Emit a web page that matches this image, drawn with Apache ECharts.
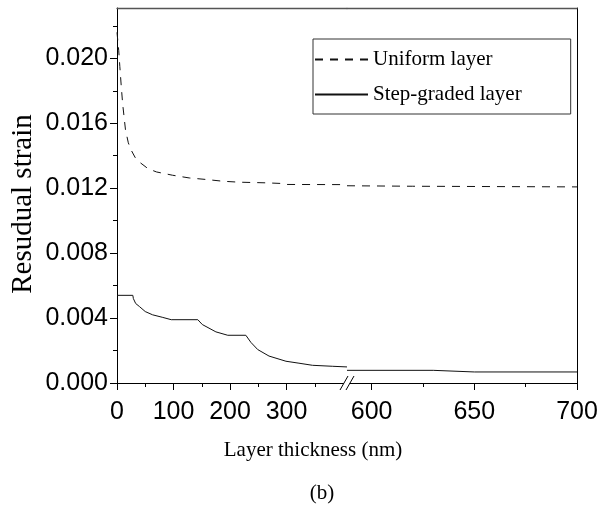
<!DOCTYPE html>
<html>
<head>
<meta charset="utf-8">
<script src="https://cdn.jsdelivr.net/npm/echarts@6/dist/echarts.min.js"></script>
<style>
  html, body { margin: 0; padding: 0; background: #fff; }
  #chart { width: 611px; height: 508px; }
</style>
</head>
<body>
<div id="chart"></div>
<script>
// broken x axis: left part 0..407 nm, right part 588..700 nm
var leftRange = [0, 407];
var rightRange = [588, 700];

var leftTicks = [0, 100, 200, 300];
var leftMinor = [50, 150, 250, 350];
var rightTicks = [600, 650, 700];
var rightMinor = [625, 675];
var yTicks = [0, 0.004, 0.008, 0.012, 0.016, 0.020];
var yMinor = [0.002, 0.006, 0.010, 0.014, 0.018, 0.022];

var uniformNm = [0, 1, 3, 5, 7.5, 10, 15, 20, 25, 32, 40, 55, 70, 98, 128, 157, 187, 216, 264, 292, 299, 407,
                 588, 620, 660, 700];
var uniformStrain = [0.0216, 0.0215, 0.0205, 0.0195, 0.0183, 0.0172, 0.0156, 0.0148, 0.01435, 0.0139, 0.0136,
                     0.0132, 0.0130, 0.0128, 0.01263, 0.01254, 0.01243, 0.01237, 0.01233, 0.01229, 0.01223, 0.01222,
                     0.01215, 0.01212, 0.0121, 0.01208];

var stepNm = [0, 28, 29, 33, 40, 50, 63, 80, 96, 143, 151, 175, 196, 228, 237, 249, 269, 299, 322, 346, 381, 407,
              588, 630, 650, 700];
var stepStrain = [0.0054, 0.0054, 0.0052, 0.0049, 0.0047, 0.0044, 0.0042, 0.00405, 0.0039, 0.0039, 0.0036,
                  0.00315, 0.00294, 0.00294, 0.0025, 0.00206, 0.00166, 0.00134, 0.00122, 0.00109, 0.00103, 0.00099,
                  0.00078, 0.00078, 0.00068, 0.00068];

function part(xs, ys, range) {
  var out = [];
  xs.forEach(function (x, i) {
    if (x >= range[0] && x <= range[1]) out.push([x, ys[i]]);
  });
  return out;
}

var sans = 'Liberation Sans, Arial, sans-serif';
var serif = 'Liberation Serif, Times New Roman, serif';

var gridTop = 8, gridH = 375;

function mainX(grid, range, ticks) {
  return {
    type: 'value', gridIndex: grid, position: 'bottom', min: range[0], max: range[1],
    axisLine: { show: true, lineStyle: { color: '#000', width: 1 } },
    axisTick: { show: true, length: 7, customValues: ticks, lineStyle: { color: '#000' } },
    axisLabel: { show: true, customValues: ticks, margin: 17, color: '#000', fontFamily: sans, fontSize: 25 },
    splitLine: { show: false }
  };
}
function minorX(grid, range, ticks) {
  return {
    type: 'value', gridIndex: grid, position: 'bottom', min: range[0], max: range[1],
    axisLine: { show: false },
    axisTick: { show: true, length: 4, customValues: ticks, lineStyle: { color: '#000' } },
    axisLabel: { show: false },
    splitLine: { show: false }
  };
}
function borderX(grid, range) {
  return {
    type: 'value', gridIndex: grid, position: 'top', min: range[0], max: range[1],
    axisLine: { show: true, lineStyle: { color: '#555', width: 1.3 } },
    axisTick: { show: false }, axisLabel: { show: false }, splitLine: { show: false }
  };
}

var yMax = 0.0231;

var chart = echarts.init(document.getElementById('chart'));
chart.setOption({
  animation: false,
  backgroundColor: '#fff',
  grid: [
    { left: 117, top: gridTop, width: 230, height: gridH },
    { left: 347, top: gridTop, width: 230, height: gridH }
  ],
  xAxis: [
    mainX(0, leftRange, leftTicks),
    minorX(0, leftRange, leftMinor),
    borderX(0, leftRange),
    mainX(1, rightRange, rightTicks),
    minorX(1, rightRange, rightMinor),
    borderX(1, rightRange)
  ],
  yAxis: [
    {
      type: 'value', gridIndex: 0, position: 'left', min: 0, max: yMax,
      axisLine: { show: true, lineStyle: { color: '#000', width: 1 } },
      axisTick: { show: true, length: 7, customValues: yTicks, lineStyle: { color: '#000' } },
      axisLabel: {
        show: true, customValues: yTicks, margin: 9, color: '#000', fontFamily: sans, fontSize: 25,
        formatter: function (v) { return v.toFixed(3); }
      },
      splitLine: { show: false }
    },
    {
      type: 'value', gridIndex: 0, position: 'left', min: 0, max: yMax,
      axisLine: { show: false },
      axisTick: { show: true, length: 4, customValues: yMinor, lineStyle: { color: '#000' } },
      axisLabel: { show: false }, splitLine: { show: false }
    },
    {
      type: 'value', gridIndex: 1, position: 'right', min: 0, max: yMax,
      axisLine: { show: true, lineStyle: { color: '#000', width: 1 } },
      axisTick: { show: false }, axisLabel: { show: false }, splitLine: { show: false }
    }
  ],
  legend: {
    orient: 'vertical', left: 313, top: 39,
    padding: [10, 49, 9, 1],
    borderColor: '#333', borderWidth: 1,
    itemWidth: 53, itemHeight: 12, itemGap: 14,
    itemStyle: { opacity: 0 },
    textStyle: { fontFamily: serif, fontSize: 21, color: '#000' },
    data: ['Uniform layer', 'Step-graded layer']
  },
  series: [
    {
      name: 'Uniform layer', type: 'line', xAxisIndex: 0, yAxisIndex: 0, symbol: 'none',
      lineStyle: { color: '#111', width: 1, type: [8, 7] }, itemStyle: { color: '#111' },
      data: part(uniformNm, uniformStrain, leftRange)
    },
    {
      name: 'Step-graded layer', type: 'line', xAxisIndex: 0, yAxisIndex: 0, symbol: 'none',
      lineStyle: { color: '#111', width: 1 }, itemStyle: { color: '#111' },
      data: part(stepNm, stepStrain, leftRange)
    },
    {
      name: 'Uniform layer', type: 'line', xAxisIndex: 3, yAxisIndex: 2, symbol: 'none',
      lineStyle: { color: '#111', width: 1, type: [8, 7] }, itemStyle: { color: '#111' },
      data: part(uniformNm, uniformStrain, rightRange)
    },
    {
      name: 'Step-graded layer', type: 'line', xAxisIndex: 3, yAxisIndex: 2, symbol: 'none',
      lineStyle: { color: '#111', width: 1 }, itemStyle: { color: '#111' },
      data: part(stepNm, stepStrain, rightRange)
    }
  ],
  graphic: [
    // axis break marks
    { type: 'polygon', shape: { points: [[340, 390], [348, 376], [354, 376], [346, 390]] }, style: { fill: '#fff' }, z: 100 },
    { type: 'line', shape: { x1: 340, y1: 390, x2: 348, y2: 376 }, style: { stroke: '#000', lineWidth: 1 }, z: 101 },
    { type: 'line', shape: { x1: 346, y1: 390, x2: 354, y2: 376 }, style: { stroke: '#000', lineWidth: 1 }, z: 101 },
    {
      type: 'text', x: 313, y: 450, z: 100,
      style: { text: 'Layer thickness (nm)', font: '21px ' + serif, fill: '#000', textAlign: 'center', textVerticalAlign: 'middle' }
    },
    {
      type: 'text', x: 322, y: 493, z: 100,
      style: { text: '(b)', font: '21px ' + serif, fill: '#000', textAlign: 'center', textVerticalAlign: 'middle' }
    },
    {
      type: 'text', x: 23, y: 204, rotation: Math.PI / 2, z: 100,
      style: { text: 'Resudual strain', font: '29px ' + serif, fill: '#000', textAlign: 'center', textVerticalAlign: 'middle' }
    }
  ]
});
</script>
</body>
</html>
